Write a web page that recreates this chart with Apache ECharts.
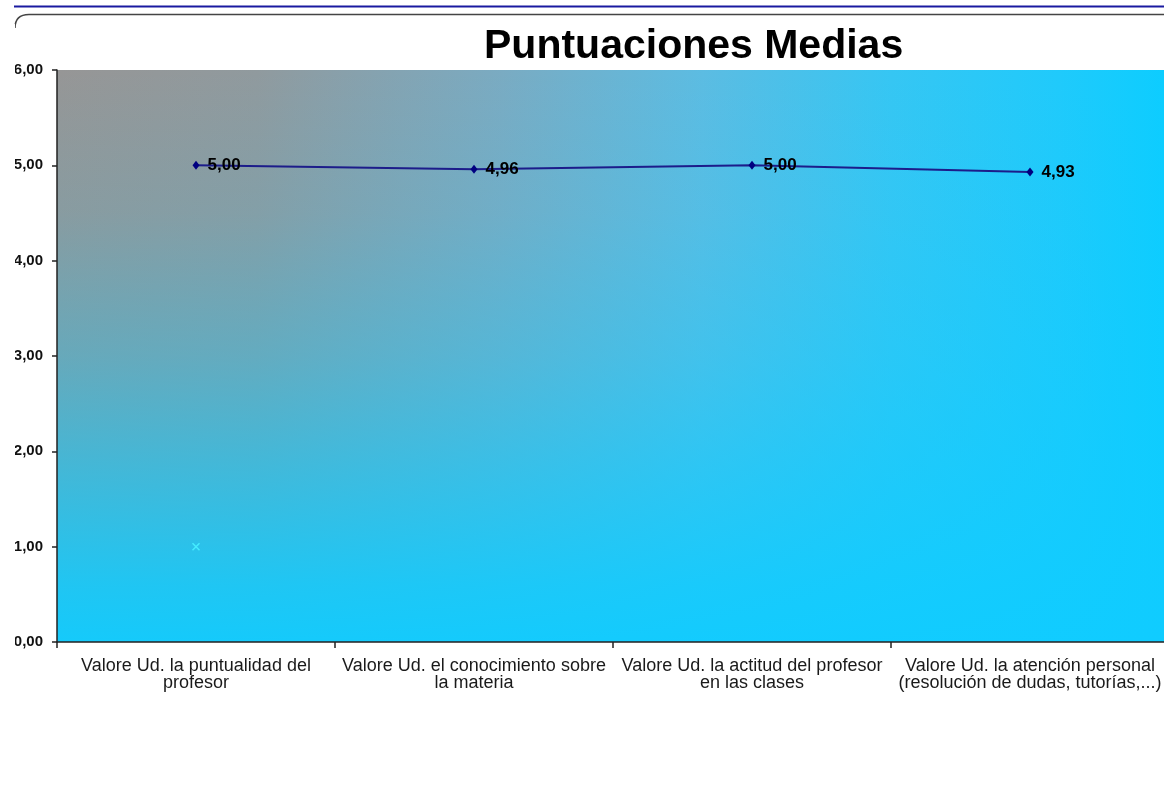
<!DOCTYPE html>
<html>
<head>
<meta charset="utf-8">
<script src="https://cdn.jsdelivr.net/npm/echarts@6/dist/echarts.min.js"></script>
<style>
html,body{margin:0;padding:0;background:#fff;}
#chart{width:1164px;height:789px;}
</style>
</head>
<body>
<div id="chart"></div>
<script>
// ---- data ----
const categories = [
  'Valore Ud. la puntualidad del\nprofesor',
  'Valore Ud. el conocimiento sobre\nla materia',
  'Valore Ud. la actitud del profesor\nen las clases',
  'Valore Ud. la atención personal\n(resolución de dudas, tutorías,...)'
];
const meanScores = [5.00, 4.96, 5.00, 4.93];
const markerSeries = [1.00, null, null, null];
const yMin = 0, yMax = 6, yStep = 1;
const chartTitle = 'Puntuaciones Medias';

const fmt = v => v.toFixed(2).replace('.', ',');

const chart = echarts.init(document.getElementById('chart'));
const gridPos = { left: 57, top: 70, width: 1112, height: 572, outerBoundsMode: 'none', containLabel: false };

chart.setOption({
  animation: false,
  backgroundColor: '#ffffff',
  title: {
    text: chartTitle,
    left: 479,
    top: 21,
    textStyle: { fontFamily: 'Liberation Sans, Arial, sans-serif', fontSize: 41, fontWeight: 'bold', color: '#000' }
  },
  grid: [
    Object.assign({
      show: true, borderWidth: 0,
      backgroundColor: {
        type: 'linear', x: 0, y: 0, x2: 1, y2: 0,
        colorStops: [
          { offset: 0, color: '#969696' },
          { offset: 0.18, color: '#909a9e' },
          { offset: 0.4, color: '#7aabc2' },
          { offset: 0.58, color: '#5cbce2' },
          { offset: 0.75, color: '#36c6f3' },
          { offset: 0.9, color: '#20cafb' },
          { offset: 1, color: '#0ccdff' }
        ]
      }
    }, gridPos),
    Object.assign({
      show: true, borderWidth: 0,
      backgroundColor: {
        type: 'linear', x: 0, y: 0, x2: 0, y2: 1,
        colorStops: [
          { offset: 0, color: 'rgba(16,204,255,0)' },
          { offset: 0.25, color: 'rgba(16,204,255,0.1)' },
          { offset: 0.5, color: 'rgba(16,204,255,0.35)' },
          { offset: 0.7, color: 'rgba(16,204,255,0.62)' },
          { offset: 0.9, color: 'rgba(16,204,255,0.88)' },
          { offset: 1, color: 'rgba(16,204,255,0.96)' }
        ]
      }
    }, gridPos)
  ],
  xAxis: [
    {
      type: 'category', gridIndex: 0, data: categories, boundaryGap: true,
      axisLine: { show: true, lineStyle: { color: '#222', width: 1.5 } },
      axisTick: { show: true, length: 6, lineStyle: { color: '#222', width: 1.5 } },
      axisLabel: {
        interval: 0, margin: 16,
        fontFamily: 'Liberation Sans, Arial, sans-serif', fontSize: 18, lineHeight: 17, color: '#1a1a1a'
      },
      z: 5
    },
    { type: 'category', gridIndex: 1, data: categories, show: false }
  ],
  yAxis: [
    {
      type: 'value', gridIndex: 0, min: yMin, max: yMax, interval: yStep,
      axisLine: { show: true, lineStyle: { color: '#222', width: 1.5 } },
      axisTick: { show: true, length: 5, lineStyle: { color: '#222', width: 1.5 } },
      splitLine: { show: false },
      axisLabel: {
        margin: 14, formatter: fmt,
        fontFamily: 'Liberation Sans, Arial, sans-serif', fontSize: 15, fontWeight: 'bold', color: '#111'
      },
      z: 5
    },
    { type: 'value', gridIndex: 1, min: yMin, max: yMax, show: false }
  ],
  series: [
    {
      name: 'Media', type: 'line', xAxisIndex: 0, yAxisIndex: 0,
      data: meanScores,
      symbol: 'diamond', symbolSize: [7, 9],
      itemStyle: { color: '#000080' },
      lineStyle: { color: '#1c1c8a', width: 2 },
      label: {
        show: true, position: 'right', distance: 8,
        formatter: p => fmt(p.value),
        fontFamily: 'Liberation Sans, Arial, sans-serif', fontSize: 17, fontWeight: 'bold', color: '#000'
      },
      z: 4
    },
    {
      name: 'Marca', type: 'line', xAxisIndex: 0, yAxisIndex: 0,
      data: markerSeries,
      showSymbol: true,
      symbol: 'path://M0,0L10,10M10,0L0,10', symbolSize: 7,
      itemStyle: { color: 'rgba(0,0,0,0)', borderColor: '#45ecff', borderWidth: 1.5 },
      lineStyle: { width: 0 },
      z: 4
    }
  ],
  graphic: [
    { type: 'line', shape: { x1: 14, y1: 6.5, x2: 1164, y2: 6.5 }, style: { stroke: '#1a1aa0', lineWidth: 2 }, z: 10 },
    { type: 'bezierCurve', shape: { x1: 15, y1: 28, cpx1: 15, cpy1: 14.5, x2: 29, y2: 14.5 }, style: { stroke: '#444', lineWidth: 1.5, fill: null }, z: 10 },
    { type: 'line', shape: { x1: 29, y1: 14.5, x2: 1164, y2: 14.5 }, style: { stroke: '#444', lineWidth: 1.5 }, z: 10 },
    { type: 'rect', shape: { x: 0, y: 24, width: 15, height: 680 }, style: { fill: '#fff' }, z: 100 }
  ]
});
</script>
</body>
</html>
